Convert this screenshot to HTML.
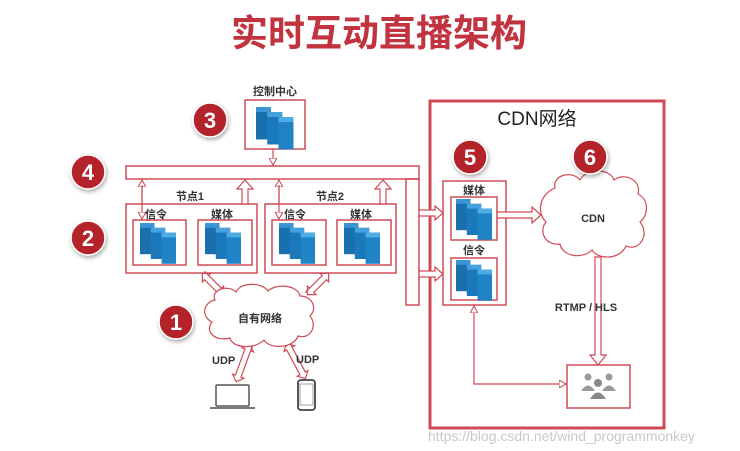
<!DOCTYPE html>
<html><head><meta charset="utf-8"><style>
html,body{margin:0;padding:0;background:#fff;}
svg{display:block;}
text{font-family:"Liberation Sans","Noto Sans CJK SC",sans-serif;}
</style></head><body>
<svg width="740" height="451" viewBox="0 0 740 451" xmlns="http://www.w3.org/2000/svg">
<defs>
<g id="srv">
  <rect x="0" y="0" width="12" height="26" fill="#1a6fad"/>
  <rect x="0" y="0" width="12" height="4" fill="#3b95d4"/>
  <rect x="9" y="4" width="12" height="26" fill="#1b79bb"/>
  <rect x="9" y="4" width="12" height="4" fill="#45a2de"/>
  <rect x="18" y="8" width="12" height="26" fill="#1f83c6"/>
  <rect x="18" y="8" width="12" height="4" fill="#4fabe6"/>
</g>
<marker id="ah" markerWidth="8" markerHeight="8" refX="7" refY="4" orient="auto" markerUnits="userSpaceOnUse"><path d="M0,0 L7,4 L0,8 Z" fill="#fff" stroke="#c9404c" stroke-width="1"/></marker>
<filter id="sh" x="-50%" y="-50%" width="200%" height="200%"><feDropShadow dx="1" dy="2" stdDeviation="2" flood-color="#000" flood-opacity="0.35"/></filter>
</defs>

<text x="379" y="46" font-size="37" font-weight="bold" fill="#c0333f" text-anchor="middle">实时互动直播架构</text>

<g fill="none" stroke="#cf4a56" stroke-width="1.5">
<rect x="245" y="100" width="60" height="49"/>
<rect x="126" y="166" width="293" height="13"/>
<rect x="406" y="179" width="13" height="126"/>
<rect x="126" y="204" width="131" height="69"/>
<rect x="265" y="204" width="131" height="69"/>
<rect x="133" y="220" width="53" height="45"/>
<rect x="198" y="220" width="54" height="45"/>
<rect x="272" y="220" width="54" height="45"/>
<rect x="337" y="220" width="54" height="45"/>
<rect x="430" y="101" width="234" height="327" stroke-width="3"/>
<rect x="443" y="181" width="63" height="124"/>
<rect x="451" y="197" width="46" height="43"/>
<rect x="451" y="258" width="46" height="42"/>
<rect x="567" y="365" width="63" height="43"/>
</g>

<g fill="none" stroke="#cf4a56" stroke-width="1.2">
<line x1="273" y1="149" x2="273" y2="165" marker-end="url(#ah)"/>
<line x1="142" y1="203" x2="142" y2="180" marker-end="url(#ah)"/>
<line x1="142" y1="185" x2="142" y2="219" marker-end="url(#ah)"/>
<line x1="279" y1="203" x2="279" y2="180" marker-end="url(#ah)"/>
<line x1="279" y1="185" x2="279" y2="219" marker-end="url(#ah)"/>
<polyline points="474,330 474,384 566,384" marker-end="url(#ah)"/>
<line x1="474" y1="330" x2="474" y2="306" marker-end="url(#ah)"/>
</g>
<g fill="#fff" stroke="#cf4a56" stroke-width="1.2">
<path d="M242,204 L242,189 L237,189 L245,180 L253,189 L248,189 L248,204 Z"/>
<path d="M380,204 L380,189 L375,189 L383,180 L391,189 L386,189 L386,204 Z"/>
<path d="M419,210 L435,210 L435,206 L443,213 L435,220 L435,216 L419,216 Z"/>
<path d="M419,271 L435,271 L435,267 L443,274 L435,281 L435,277 L419,277 Z"/>
<path d="M497,212 L532,212 L532,207 L541,215 L532,223 L532,218 L497,218 Z"/>
<path d="M595,257 L595,355 L590,355 L598,365 L606,355 L601,355 L601,257 Z"/>
<g transform="translate(213,284) rotate(45)"><path d="M-15,-3 L9,-3 L9,-6 L15,0 L9,6 L9,3 L-9,3 L-9,6 L-15,0 L-9,-6 L-9,-3 Z"/></g>
<g transform="translate(318,284) rotate(-45)"><path d="M-15,-3 L9,-3 L9,-6 L15,0 L9,6 L9,3 L-9,3 L-9,6 L-15,0 L-9,-6 L-9,-3 Z"/></g>
<g transform="translate(243,363) rotate(110)"><path d="M-20,-3 L14,-3 L14,-6 L20,0 L14,6 L14,3 L-14,3 L-14,6 L-20,0 L-14,-6 L-14,-3 Z"/></g>
<g transform="translate(296,361) rotate(62)"><path d="M-20,-3 L14,-3 L14,-6 L20,0 L14,6 L14,3 L-14,3 L-14,6 L-20,0 L-14,-6 L-14,-3 Z"/></g>
</g>

<g fill="#fff" stroke="#cf4a56" stroke-width="1.2">
<path d="M215,300 C210,290 228,284 236,292 C240,282 262,282 268,291 C276,283 298,285 300,296 C312,296 318,308 310,316 C318,326 310,340 298,336 C294,348 270,350 264,340 C254,350 232,348 230,338 C216,342 204,332 212,322 C200,316 204,302 215,300 Z"/>
<path d="M555,188 C552,175 572,170 580,180 C586,168 610,168 614,180 C624,172 642,180 638,194 C650,200 648,216 640,222 C650,234 640,252 626,246 C620,260 598,260 592,250 C582,260 562,256 560,244 C546,246 538,232 546,222 C536,212 540,194 555,188 Z"/>
</g>

<g transform="translate(256,107) scale(1.25)"><use href="#srv"/></g>
<g transform="translate(140,223) scale(1.2)"><use href="#srv"/></g>
<g transform="translate(205,223) scale(1.2)"><use href="#srv"/></g>
<g transform="translate(279,223) scale(1.2)"><use href="#srv"/></g>
<g transform="translate(344,223) scale(1.2)"><use href="#srv"/></g>
<g transform="translate(456,199) scale(1.2)"><use href="#srv"/></g>
<g transform="translate(456,260) scale(1.2)"><use href="#srv"/></g>

<g fill="#9a9a9a">
<circle cx="588" cy="377" r="3.5"/><path d="M581,391 Q588,380 595,391 Z"/>
<circle cx="609" cy="377" r="3.5"/><path d="M602,391 Q609,380 616,391 Z"/>
<circle cx="598" cy="383" r="4" fill="#888"/><path d="M590,399 Q598,386 606,399 Z" fill="#888"/>
</g>

<rect x="216" y="385" width="33" height="21" fill="#fff" stroke="#555" stroke-width="1.5" rx="1"/>
<rect x="210" y="407" width="45" height="2" fill="#777"/>
<rect x="298" y="380" width="17" height="30" rx="3" fill="#fff" stroke="#444" stroke-width="1.8"/>
<rect x="300" y="384" width="13" height="21" fill="none" stroke="#888" stroke-width="0.8"/>

<g font-weight="bold" fill="#333" font-size="11">
<text x="275" y="95" text-anchor="middle">控制中心</text>
<text x="190" y="200" text-anchor="middle">节点1</text>
<text x="330" y="200" text-anchor="middle">节点2</text>
<text x="145" y="218">信令</text>
<text x="211" y="218">媒体</text>
<text x="284" y="218">信令</text>
<text x="350" y="218">媒体</text>
<text x="474" y="194" text-anchor="middle">媒体</text>
<text x="474" y="254" text-anchor="middle">信令</text>
<text x="593" y="222" text-anchor="middle">CDN</text>
<text x="586" y="311" text-anchor="middle">RTMP / HLS</text>
<text x="260" y="322" text-anchor="middle">自有网络</text>
<text x="212" y="364">UDP</text>
<text x="296" y="363">UDP</text>
</g>
<text x="537" y="125" font-size="19" fill="#222" text-anchor="middle">CDN网络</text>

<g filter="url(#sh)" fill="#b4222c" stroke="#fff" stroke-width="1.5">
<circle cx="210" cy="120" r="17"/>
<circle cx="88" cy="172" r="17"/>
<circle cx="88" cy="238" r="17"/>
<circle cx="176" cy="322" r="17"/>
<circle cx="470" cy="157" r="17"/>
<circle cx="590" cy="157" r="17"/>
</g>
<g fill="#fff" font-size="22" font-weight="bold" text-anchor="middle">
<text x="210" y="128">3</text>
<text x="88" y="180">4</text>
<text x="88" y="246">2</text>
<text x="176" y="330">1</text>
<text x="470" y="165">5</text>
<text x="590" y="165">6</text>
</g>

<text x="428" y="441" font-size="14" fill="#c8c8c8">https://blog.csdn.net/wind_programmonkey</text>
</svg>
</body></html>
